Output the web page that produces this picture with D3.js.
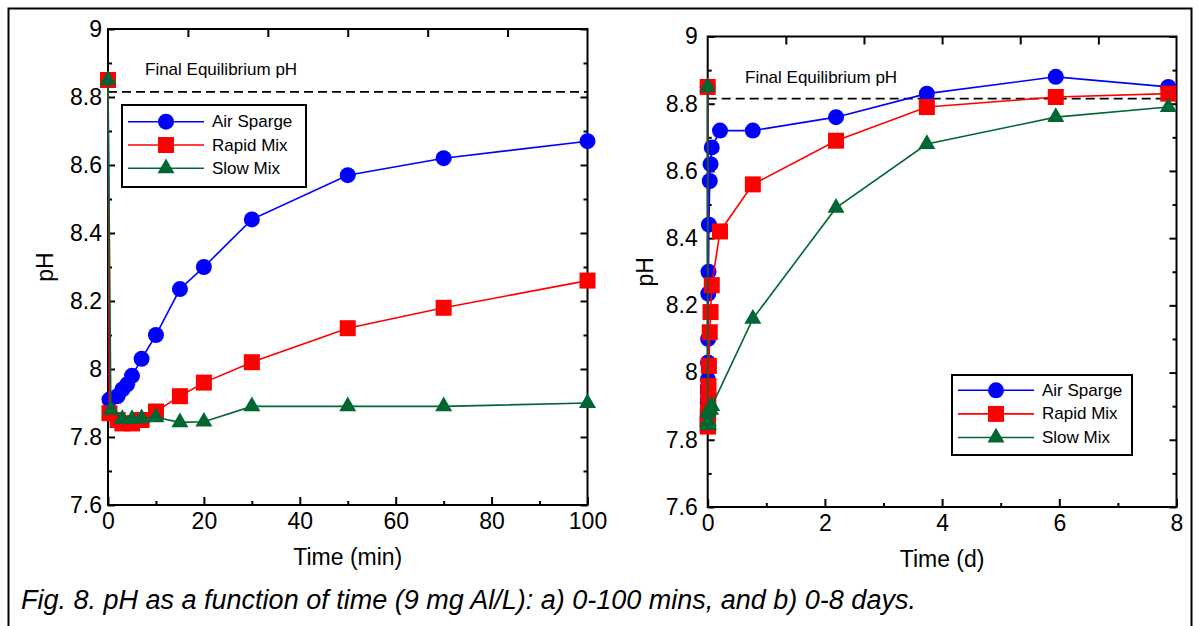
<!DOCTYPE html>
<html>
<head>
<meta charset="utf-8">
<script src="https://cdn.jsdelivr.net/npm/d3@7"></script>
<style>
  html, body { margin: 0; padding: 0; background: #fff; }
  svg { display: block; font-family: "Liberation Sans", Arial, sans-serif; }
</style>
</head>
<body>
<svg id="fig" width="1198" height="626"></svg>
<script>
// ---- data ----
const seriesNames = ["Air Sparge", "Rapid Mix", "Slow Mix"];

// pH readings over the first 100 minutes: [time (min), pH]
const airSpargeMin = [[0, 8.85], [0.3, 7.91], [2, 7.92], [3, 7.94], [4, 7.955], [5, 7.98], [7, 8.03],
                      [10, 8.10], [15, 8.235], [20, 8.30], [30, 8.44], [50, 8.57], [70, 8.62], [100, 8.67]];
const rapidMixMin  = [[0, 8.85], [0.3, 7.87], [2, 7.85], [3, 7.84], [5, 7.84], [7, 7.85], [10, 7.875],
                      [15, 7.92], [20, 7.96], [30, 8.02], [50, 8.12], [70, 8.18], [100, 8.26]];
const slowMixMin   = [[0, 8.85], [0.6, 7.88], [3, 7.853], [5, 7.853], [7, 7.855], [10, 7.858],
                      [15, 7.843], [20, 7.845], [30, 7.89], [50, 7.89], [70, 7.89], [100, 7.90]];

// later readings: [time (d), pH]
const airSpargeDay = [[0.21, 8.72], [0.77, 8.72], [2.19, 8.76], [3.74, 8.83], [5.94, 8.88], [7.86, 8.85]];
const rapidMixDay  = [[0.21, 8.42], [0.77, 8.56], [2.19, 8.69], [3.74, 8.79], [5.94, 8.82], [7.86, 8.83]];
const slowMixDay   = [[0.77, 8.16], [2.19, 8.49], [3.74, 8.68], [5.94, 8.76], [7.86, 8.79]];

const equilibriumPH = 8.815;
const equilibriumLabel = "Final Equilibrium pH";

const pHTicks = [7.6, 7.8, 8, 8.2, 8.4, 8.6, 8.8, 9];
const minuteTicks = [0, 20, 40, 60, 80, 100];
const dayTicks = [0, 2, 4, 6, 8];
const minutesPerDay = 1440;

const caption = "Fig. 8. pH as a function of time (9 mg Al/L): a) 0-100 mins, and b) 0-8 days.";

// ---- styling ----
const colors = ["#0000ff", "#ff0000", "#006633"];
const symbols = [
  d3.symbol(d3.symbolCircle, Math.PI * 8 * 8),
  d3.symbol(d3.symbolSquare, 16 * 16),
  d3.symbol(d3.symbolTriangle, 125)
];

const svg = d3.select("#fig");

// outer figure frame
svg.append("rect")
  .attr("x", 8.5).attr("y", 8.5).attr("width", 1183).attr("height", 640)
  .attr("fill", "none").attr("stroke", "#000").attr("stroke-width", 2);

const panels = [
  {
    left: 108, right: 587.5, top: 29, bottom: 505,
    xDomain: [0, 100], xTicks: minuteTicks, xMinorStep: 10,
    xTitle: "Time (min)", yTitleX: 45, yPad: 6,
    series: [airSpargeMin, rapidMixMin, slowMixMin],
    legend: { x: 122, y: 105, w: 184, h: 82, first: 16.7, step: 23.3 },
    eqLabel: { x: 145, y: 69 }
  },
  {
    left: 707.7, right: 1176.5, top: 36.5, bottom: 507,
    xDomain: [0, 8], xTicks: dayTicks, xMinorStep: 1,
    xTitle: "Time (d)", yTitleX: 645, yPad: 10,
    series: [
      airSpargeMin.map(d => [d[0] / minutesPerDay, d[1]]).concat(airSpargeDay),
      rapidMixMin.map(d => [d[0] / minutesPerDay, d[1]]).concat(rapidMixDay),
      slowMixMin.map(d => [d[0] / minutesPerDay, d[1]]).concat(slowMixDay)
    ],
    legend: { x: 952, y: 375, w: 180, h: 80, first: 15.3, step: 23.6 },
    eqLabel: { x: 745, y: 77 }
  }
];

panels.forEach(p => {
  const x = d3.scaleLinear().domain(p.xDomain).range([p.left, p.right]);
  const y = d3.scaleLinear().domain([7.6, 9]).range([p.bottom, p.top]);
  const g = svg.append("g");

  const [x0, x1] = p.xDomain;
  const minorX = d3.range(x0, x1 + 1e-9, p.xMinorStep).filter(v => !p.xTicks.includes(v));
  const minorY = d3.range(7.7, 9, 0.2).map(v => +v.toFixed(1));
  const topTicks = d3.range(0, 7).map(i => x0 + (x1 - x0) * i / 6).slice(1, 6);

  const styleAxis = (sel, fontSize) => {
    sel.select(".domain").remove();
    sel.selectAll(".tick line").attr("stroke", "#000").attr("stroke-width", 2);
    sel.selectAll(".tick text").attr("fill", "#000")
      .style("font-size", fontSize + "px").style("font-family", "'Liberation Sans', Arial, sans-serif");
  };

  // bottom axis: labelled majors + minors
  g.append("g").attr("transform", `translate(0,${p.bottom})`)
    .call(d3.axisBottom(x).tickValues(p.xTicks).tickSize(-8).tickSizeOuter(0).tickPadding(8).tickFormat(d3.format("d")))
    .call(s => styleAxis(s, 23));
  g.append("g").attr("transform", `translate(0,${p.bottom})`)
    .call(d3.axisBottom(x).tickValues(minorX).tickSize(-4).tickSizeOuter(0).tickFormat(""))
    .call(s => styleAxis(s, 23));
  // top axis: plain divisions
  g.append("g").attr("transform", `translate(0,${p.top})`)
    .call(d3.axisTop(x).tickValues(topTicks).tickSize(-8).tickSizeOuter(0).tickFormat(""))
    .call(s => styleAxis(s, 23));

  // left axis
  g.append("g").attr("transform", `translate(${p.left},0)`)
    .call(d3.axisLeft(y).tickValues(pHTicks).tickSize(-7).tickSizeOuter(0).tickPadding(p.yPad).tickFormat(d3.format("")))
    .call(s => styleAxis(s, 23));
  g.append("g").attr("transform", `translate(${p.left},0)`)
    .call(d3.axisLeft(y).tickValues(minorY).tickSize(-4).tickSizeOuter(0).tickFormat(""))
    .call(s => styleAxis(s, 23));
  // right axis
  g.append("g").attr("transform", `translate(${p.right},0)`)
    .call(d3.axisRight(y).tickValues(pHTicks).tickSize(-7).tickSizeOuter(0).tickFormat(""))
    .call(s => styleAxis(s, 23));
  g.append("g").attr("transform", `translate(${p.right},0)`)
    .call(d3.axisRight(y).tickValues(minorY).tickSize(-4).tickSizeOuter(0).tickFormat(""))
    .call(s => styleAxis(s, 23));

  // plot frame
  g.append("rect")
    .attr("x", p.left).attr("y", p.top)
    .attr("width", p.right - p.left).attr("height", p.bottom - p.top)
    .attr("fill", "none").attr("stroke", "#000").attr("stroke-width", 2);

  // axis titles
  g.append("text")
    .attr("x", (p.left + p.right) / 2).attr("y", p.bottom + 60)
    .attr("text-anchor", "middle").style("font-size", "23px").text(p.xTitle);
  g.append("text")
    .attr("transform", `translate(${p.yTitleX},${(p.top + p.bottom) / 2}) rotate(-90)`)
    .attr("text-anchor", "middle").attr("dominant-baseline", "central")
    .style("font-size", "23px").text("pH");

  // equilibrium reference line
  g.append("line")
    .attr("x1", p.left).attr("x2", p.right)
    .attr("y1", y(equilibriumPH)).attr("y2", y(equilibriumPH))
    .attr("stroke", "#000").attr("stroke-width", 1.7).attr("stroke-dasharray", "9,5");
  g.append("text")
    .attr("x", p.eqLabel.x).attr("y", p.eqLabel.y)
    .attr("dominant-baseline", "central").style("font-size", "17px").text(equilibriumLabel);

  // series
  const line = d3.line().x(d => x(d[0])).y(d => y(d[1]));
  p.series.forEach((data, i) => {
    const sg = g.append("g");
    sg.append("path").datum(data)
      .attr("d", line).attr("fill", "none")
      .attr("stroke", colors[i]).attr("stroke-width", 1.6);
    sg.selectAll("path.mark").data(data).join("path")
      .attr("class", "mark")
      .attr("d", symbols[i])
      .attr("transform", d => `translate(${x(d[0])},${y(d[1])})`)
      .attr("fill", colors[i]);
  });

  // legend
  const L = p.legend;
  const lg = g.append("g");
  lg.append("rect")
    .attr("x", L.x).attr("y", L.y).attr("width", L.w).attr("height", L.h)
    .attr("fill", "#fff").attr("stroke", "#000").attr("stroke-width", 2);
  seriesNames.forEach((name, i) => {
    const cy = L.y + L.first + i * L.step;
    lg.append("line")
      .attr("x1", L.x + 6).attr("x2", L.x + 82).attr("y1", cy).attr("y2", cy)
      .attr("stroke", colors[i]).attr("stroke-width", 1.6);
    lg.append("path")
      .attr("d", symbols[i]).attr("transform", `translate(${L.x + 44},${cy})`)
      .attr("fill", colors[i]);
    lg.append("text")
      .attr("x", L.x + 90).attr("y", cy)
      .attr("dominant-baseline", "central").style("font-size", "17px").text(name);
  });
});

// figure caption
svg.append("text")
  .attr("x", 21).attr("y", 609)
  .style("font-size", "27px").style("font-style", "italic")
  .text(caption);
</script>
</body>
</html>
